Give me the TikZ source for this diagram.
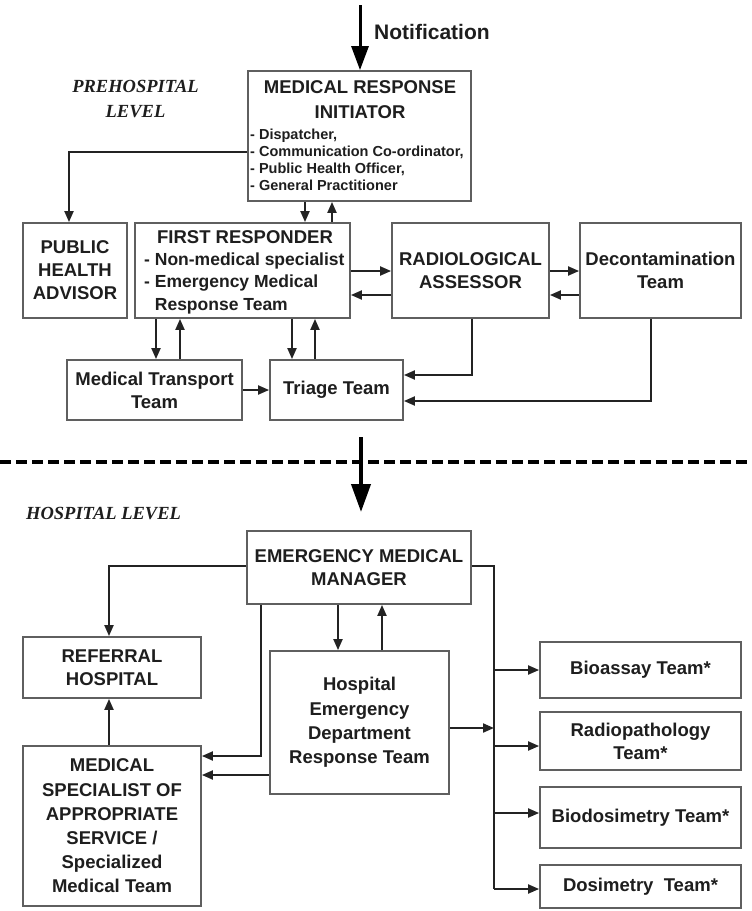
\documentclass[tikz,border=0pt]{standalone}
\usepackage{fontspec}
\setmainfont{Liberation Sans}
\newfontfamily\serifit{Liberation Serif}
\usetikzlibrary{arrows.meta}
\definecolor{boxc}{RGB}{95,95,95}
\definecolor{linec}{RGB}{35,35,35}
\definecolor{txtc}{RGB}{30,30,30}
\begin{document}
\begin{tikzpicture}[x=1pt,y=-1pt,
  box/.style={draw=boxc, line width=1.8pt, fill=white, text=txtc, align=center, inner sep=0pt,
    font=\bfseries\fontsize{18.5}{23}\selectfont},
  tallbox/.style={box, font=\bfseries\fontsize{18.5}{24.2}\selectfont},
  ttl/.style={text=txtc, align=center, inner sep=0pt, font=\bfseries\fontsize{18.5}{25}\selectfont},
  lst/.style={text=txtc, align=left, inner sep=0pt, font=\bfseries\fontsize{14.5}{17}\selectfont},
  frlst/.style={text=txtc, align=left, inner sep=0pt, font=\bfseries\fontsize{17.5}{22.5}\selectfont},
  lvl/.style={text=txtc, align=center, inner sep=0pt, font=\serifit\bfseries\itshape\fontsize{18.5}{25}\selectfont},
  ln/.style={draw=linec, line width=2pt},
  arr/.style={ln, -{Triangle[length=11pt,width=9pt]}},
  bigarr/.style={draw=black, line width=3pt, -{Triangle[length=24pt,width=17pt]}},
  bigarrb/.style={draw=black, line width=4pt, -{Triangle[length=28pt,width=19pt]}},
  dashline/.style={draw=black, line width=3.2pt, dash pattern=on 11pt off 5pt}
]
\useasboundingbox (0,0) rectangle (752,911);
\fill[white] (0,0) rectangle (752,911);

% ---------- labels ----------
\node[text=txtc, anchor=west, inner sep=0pt, font=\bfseries\fontsize{21}{25}\selectfont] (notif) at (374,32) {Notification};
\node[lvl] (pre) at (135.5,99.5) {PREHOSPITAL\\LEVEL};
\node[lvl, anchor=west] (hosp) at (26,514) {HOSPITAL LEVEL};

% ---------- prehospital boxes ----------
\node[box, minimum width=223pt, minimum height=130pt] (mri) at (359.5,136) {};
\node[ttl] (mrit) at (360,99.5) {MEDICAL RESPONSE\\INITIATOR};
\node[lst, anchor=west] (mril) at (250,160) {- Dispatcher,\\- Communication Co-ordinator,\\- Public Health Officer,\\- General Practitioner};

\node[box, minimum width=104pt, minimum height=95pt] (pha) at (75,270.5) {PUBLIC\\HEALTH\\ADVISOR};
\node[box, minimum width=215pt, minimum height=95pt] (fr) at (242.5,270.5) {};
\node[ttl] (frt) at (245,237) {FIRST RESPONDER};
\node[frlst, anchor=west] (frl) at (144,283) {- Non-medical specialist\\- Emergency Medical\\\phantom{- }Response Team};
\node[box, minimum width=157pt, minimum height=95pt] (ra) at (470.5,270.5) {RADIOLOGICAL\\ASSESSOR};
\node[box, minimum width=161pt, minimum height=95pt] (dec) at (660.5,270.5) {Decontamination\\Team};
\node[box, minimum width=175pt, minimum height=60pt] (mtt) at (154.5,390) {Medical Transport\\Team};
\node[box, minimum width=133pt, minimum height=60pt] (tri) at (336.5,390) {Triage Team};

% ---------- hospital boxes ----------
\node[box, minimum width=224pt, minimum height=73pt] (emm) at (359,567.5) {EMERGENCY MEDICAL\\MANAGER};
\node[box, minimum width=178pt, minimum height=61pt] (ref) at (112,667.5) {REFERRAL\\HOSPITAL};
\node[tallbox, minimum width=179pt, minimum height=143pt] (hed) at (359.5,722.5) {Hospital\\Emergency\\Department\\Response Team};
\node[tallbox, minimum width=178pt, minimum height=160pt] (msa) at (112,826) {MEDICAL\\SPECIALIST OF\\APPROPRIATE\\SERVICE /\\Specialized\\Medical Team};
\node[box, minimum width=201pt, minimum height=56pt] (bio) at (640.5,670) {Bioassay Team*};
\node[box, minimum width=201pt, minimum height=58pt] (rad) at (640.5,741) {Radiopathology\\Team*};
\node[box, minimum width=201pt, minimum height=61pt] (bds) at (640.5,817.5) {Biodosimetry Team*};
\node[box, minimum width=201pt, minimum height=43pt] (dos) at (640.5,886.5) {Dosimetry\ \ Team*};

% ---------- prehospital connectors ----------
\coordinate (ntop) at (360,5);
\draw[bigarr] (ntop) -- (mri.north -| ntop);
\draw[arr] (mri.west |- 0,152) -| (pha.north -| 69,0);
\draw[arr] (mri.south -| 305,0) -- (fr.north -| 305,0);
\draw[arr] (fr.north -| 332,0) -- (mri.south -| 332,0);
\draw[arr] (fr.east |- 0,271) -- (ra.west |- 0,271);
\draw[arr] (ra.west |- 0,295) -- (fr.east |- 0,295);
\draw[arr] (ra.east |- 0,271) -- (dec.west |- 0,271);
\draw[arr] (dec.west |- 0,295) -- (ra.east |- 0,295);
\draw[arr] (fr.south -| 156,0) -- (mtt.north -| 156,0);
\draw[arr] (mtt.north -| 180,0) -- (fr.south -| 180,0);
\draw[arr] (fr.south -| 292,0) -- (tri.north -| 292,0);
\draw[arr] (tri.north -| 315,0) -- (fr.south -| 315,0);
\draw[arr] (mtt.east |- 0,390) -- (tri.west |- 0,390);
\draw[arr] (ra.south -| 472,0) |- (tri.east |- 0,375);
\draw[arr] (dec.south -| 651,0) |- (tri.east |- 0,401);

% ---------- level divider ----------
\coordinate (dl) at (0,462);
\coordinate (dr) at (752,462);
\draw[dashline] (dl) -- (dr);
\coordinate (mtop) at (361,437);
\coordinate (mtip) at (361,512);
\draw[bigarrb] (mtop) -- (mtip);

% ---------- hospital connectors ----------
\draw[arr] (emm.west |- 0,566) -| (ref.north -| 109,0);
\draw[arr] (msa.north -| 109,0) -- (ref.south -| 109,0);
\draw[arr] (emm.south -| 261,0) |- (msa.east |- 0,756);
\draw[arr] (hed.west |- 0,775) -- (msa.east |- 0,775);
\draw[arr] (emm.south -| 338,0) -- (hed.north -| 338,0);
\draw[arr] (hed.north -| 382,0) -- (emm.south -| 382,0);

\coordinate (bt) at (494,566);
\coordinate (bb) at (494,889);
\draw[ln] (emm.east |- bt) -- (bt) -- (bb);
\draw[arr] (hed.east |- 0,728) -- (bt |- 0,728);
\draw[arr] (bt |- 0,670) -- (bio.west |- 0,670);
\draw[arr] (bt |- 0,746) -- (rad.west |- 0,746);
\draw[arr] (bt |- 0,813) -- (bds.west |- 0,813);
\draw[arr] (bb) -- (dos.west |- bb);
\end{tikzpicture}
\end{document}
